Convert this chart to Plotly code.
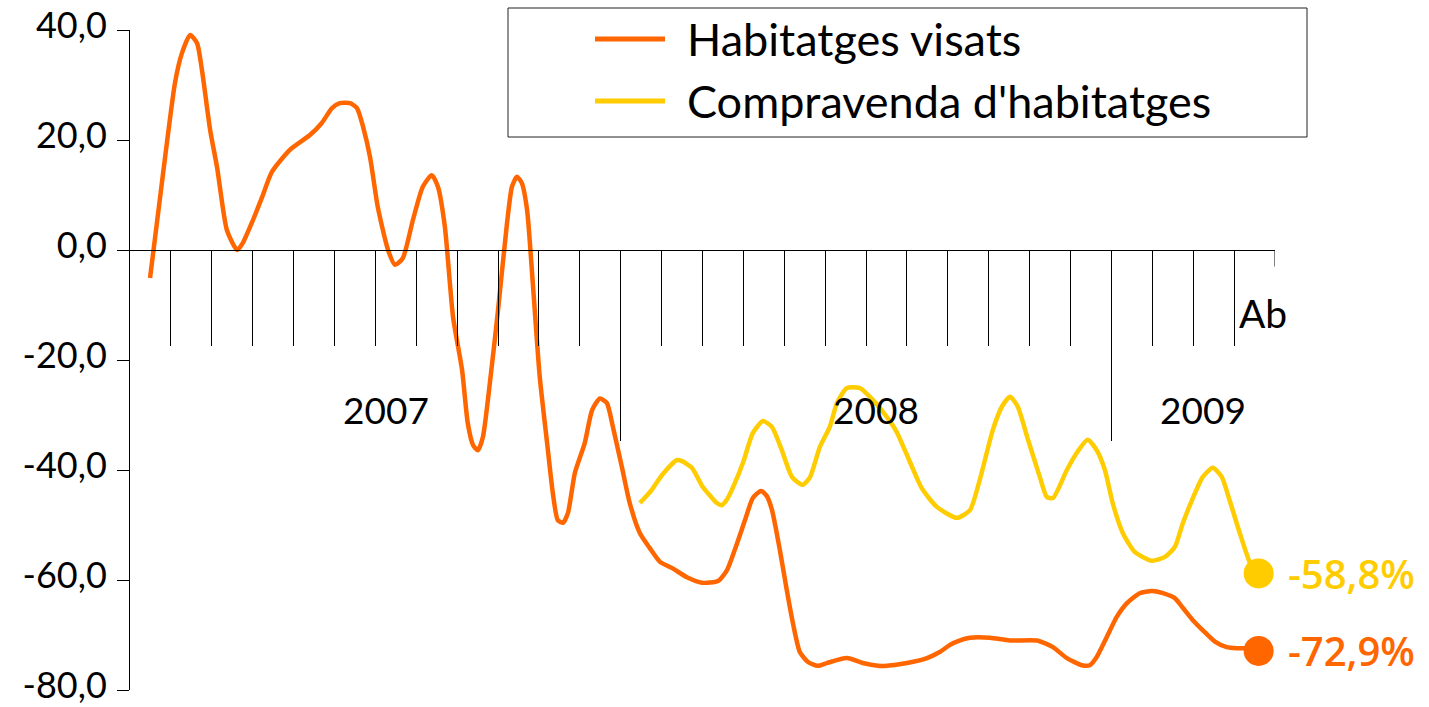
import plotly.graph_objects as go

# x in months from the start of January 2007 (12 = Jan 2008, 24 = Jan 2009)
visats_x = [0.49, 0.81, 1.10, 1.27, 1.47, 1.64, 1.76, 1.96, 2.13, 2.37, 2.62, 2.76,
            3.01, 3.23, 3.47, 3.91, 4.40, 4.69, 4.94, 5.13, 5.38, 5.55, 5.70, 5.87,
            6.06, 6.31, 6.48, 6.67, 6.92, 7.16, 7.38, 7.53, 7.70, 7.90, 8.12, 8.26,
            8.39, 8.51, 8.63, 8.80, 9.00, 9.22, 9.34, 9.46, 9.58, 9.71, 9.85, 10.02,
            10.20, 10.34, 10.46, 10.59, 10.71, 10.88, 11.12, 11.30, 11.49, 11.66, 11.81,
            12.03, 12.22, 12.47, 12.71, 12.96, 13.25, 13.62, 13.99, 14.38, 14.60, 14.79,
            15.04, 15.23, 15.43, 15.57, 15.70, 15.89, 16.06, 16.21, 16.38, 16.58, 16.82,
            17.04, 17.53, 17.92, 18.29, 18.51, 19.00, 19.49, 19.80, 20.05, 20.22, 20.54,
            21.03, 21.52, 22.18, 22.57, 22.91, 23.28, 23.47, 23.64, 23.89, 24.13, 24.38,
            24.69, 24.99, 25.26, 25.55, 25.75, 25.99, 26.23, 26.53, 26.82, 27.07, 27.31,
            27.60]
visats_y = [-5.1, 14.0, 30.4, 35.8, 39.1, 37.6, 32.7, 21.8, 15.0, 3.6, 0.0, 1.3,
            5.5, 9.6, 14.2, 18.2, 20.9, 23.1, 25.8, 26.7, 26.7, 25.8, 22.4, 16.9,
            7.8, 0.0, -2.7, -1.5, 5.5, 11.5, 13.6, 11.5, 4.2, -12.2, -21.8, -31.5,
            -35.5, -36.4, -34.0, -24.2, -10.9, 4.9, 11.5, 13.3, 12.2, 7.3, -6.0, -23.1,
            -35.1, -44.2, -49.1, -49.6, -47.8, -40.5, -35.1, -29.1, -27.0, -27.8, -32.2,
            -39.5, -46.0, -51.5, -54.2, -56.7, -57.8, -59.5, -60.5, -60.2, -58.2, -54.5,
            -49.1, -45.1, -43.8, -44.7, -47.3, -54.5, -61.8, -67.8, -73.1, -74.9, -75.6,
            -75.1, -74.2, -75.1, -75.6, -75.6, -75.1, -74.2, -73.1, -71.8, -71.2, -70.5,
            -70.5, -71.0, -71.0, -72.2, -74.2, -75.5, -75.5, -74.0, -70.3, -66.7, -64.2,
            -62.4, -62.0, -62.4, -63.3, -65.1, -67.3, -69.1, -71.2, -72.2, -72.4, -72.4,
            -72.9]

compra_x = [12.47, 12.76, 13.01, 13.37, 13.50, 13.74, 13.99, 14.13, 14.35, 14.47, 14.62,
            14.79, 14.99, 15.23, 15.48, 15.70, 15.94, 16.19, 16.45, 16.63, 16.87, 17.11,
            17.29, 17.53, 17.85, 18.17, 18.51, 18.75, 19.07, 19.36, 19.73, 20.22, 20.54,
            20.78, 21.10, 21.32, 21.52, 21.71, 21.96, 22.25, 22.42, 22.57, 22.91, 23.15,
            23.42, 23.64, 23.84, 24.03, 24.28, 24.57, 24.99, 25.31, 25.55, 25.75, 25.97,
            26.23, 26.48, 26.70, 26.89, 27.14, 27.43, 27.60]
compra_y = [-46.0, -43.6, -40.9, -38.2, -38.4, -39.6, -42.9, -44.2, -46.0, -46.4, -45.1,
            -42.4, -38.7, -33.3, -31.1, -32.2, -36.4, -41.3, -42.7, -41.3, -35.8, -32.2,
            -27.8, -25.1, -25.1, -27.3, -30.4, -33.1, -38.5, -43.3, -46.7, -48.7, -47.3,
            -41.8, -32.7, -28.5, -26.7, -28.5, -34.5, -41.3, -44.9, -45.1, -40.0, -36.9,
            -34.5, -36.4, -40.0, -46.0, -51.5, -54.9, -56.5, -55.8, -54.0, -49.6, -45.5,
            -41.3, -39.6, -41.3, -45.5, -51.5, -57.6, -58.8]

series_names = ["Habitatges visats", "Compravenda d'habitatges"]
end_labels = ["-72,9%", "-58,8%"]

y_ticks = [-80, -60, -40, -20, 0, 20, 40]
y_tick_labels = ["-80,0", "-60,0", "-40,0", "-20,0", "0,0", "20,0", "40,0"]
month_ticks = list(range(1, 28))
year_ticks = [12, 24]
year_labels = ["2007", "2008", "2009"]
year_label_x = [6.25, 18.25, 26.25]
last_month = "Ab"

ORANGE = "#FF6600"
YELLOW = "#FFCC00"
FONT = "Lato, 'Liberation Sans', sans-serif"

W, H = 1429, 707
M_L, M_R, M_T, M_B = 130, 154, 30, 17


def px(x):
    return (x - M_L) / (W - M_L - M_R)


def py(y):
    return (H - M_B - y) / (H - M_T - M_B)


fig = go.Figure()
for xs, ys, color in [(visats_x, visats_y, ORANGE), (compra_x, compra_y, YELLOW)]:
    fig.add_trace(go.Scatter(
        x=xs, y=ys, mode="lines",
        line=dict(color=color, width=4.5, shape="spline", smoothing=0.6),
        showlegend=False, hoverinfo="skip",
    ))
    fig.add_trace(go.Scatter(
        x=[xs[-1]], y=[ys[-1]], mode="markers",
        marker=dict(color=color, size=30),
        showlegend=False, hoverinfo="skip",
    ))

annotations = []
for xs, ys, color, label in [(visats_x, visats_y, ORANGE, end_labels[0]),
                             (compra_x, compra_y, YELLOW, end_labels[1])]:
    annotations.append(dict(
        x=xs[-1], y=ys[-1], xref="x", yref="y", text=label, showarrow=False,
        xanchor="left", yanchor="middle", xshift=27,
        font=dict(family="'Open Sans', sans-serif", size=40, color=color, weight=600),
    ))

for xv, lab in zip(year_label_x, year_labels):
    annotations.append(dict(
        x=xv, y=py(410), xref="x", yref="paper", text=lab, showarrow=False,
        xanchor="center", yanchor="middle", font=dict(size=37),
    ))
annotations.append(dict(
    x=27.7, y=py(313), xref="x", yref="paper", text=last_month, showarrow=False,
    xanchor="center", yanchor="middle", font=dict(size=39),
))

# legend drawn by hand: box, line samples and names
shapes = [dict(type="rect", xref="paper", yref="paper",
               x0=px(508), x1=px(1307), y0=py(137), y1=py(8),
               line=dict(color="#222222", width=1), fillcolor="white", layer="above")]
for i, (name, color) in enumerate(zip(series_names, [ORANGE, YELLOW])):
    yy = py(39 + 62 * i)
    shapes.append(dict(type="line", xref="paper", yref="paper",
                       x0=px(595), x1=px(665), y0=yy, y1=yy,
                       line=dict(color=color, width=5), layer="above"))
    annotations.append(dict(
        x=px(685), y=yy, xref="paper", yref="paper", text=name, showarrow=False,
        xanchor="left", yanchor="middle", font=dict(size=45),
    ))

# short closing tick at the end of the axis
shapes.append(dict(type="line", xref="x", yref="y", x0=28, x1=28, y0=0, y1=-3,
                   line=dict(color="black", width=1)))

fig.update_layout(
    template="none",
    width=W, height=H,
    margin=dict(l=M_L, r=M_R, t=M_T, b=M_B, pad=0, autoexpand=False),
    plot_bgcolor="white", paper_bgcolor="white",
    font=dict(family=FONT, color="black", size=37),
    separators=",.",
    shapes=shapes,
    annotations=annotations,
    xaxis=dict(
        range=[0, 28], showgrid=False, zeroline=False, automargin=False,
        showline=True, linecolor="black", linewidth=1,
        anchor="free", position=py(250),
        tickmode="array", tickvals=year_ticks, ticks="outside",
        ticklen=190, tickcolor="black", tickwidth=1, showticklabels=False,
        minor=dict(ticks="outside", ticklen=95, tickcolor="black", tickwidth=1,
                   tickmode="array", tickvals=month_ticks, showgrid=False),
    ),
    yaxis=dict(
        range=[-80, 40], showgrid=False, zeroline=False, automargin=False,
        showline=True, linecolor="black", linewidth=1,
        tickmode="array", tickvals=y_ticks, ticktext=y_tick_labels,
        ticks="outside", ticklen=12, tickcolor="black", tickwidth=1,
        ticklabelstandoff=3, ticklabelshift=-5, ticklabeloverflow="allow",
        tickfont=dict(size=36),
    ),
)

fig.write_html("out.html", config={"displayModeBar": False},
               post_script="document.body.style.margin = '0';")
